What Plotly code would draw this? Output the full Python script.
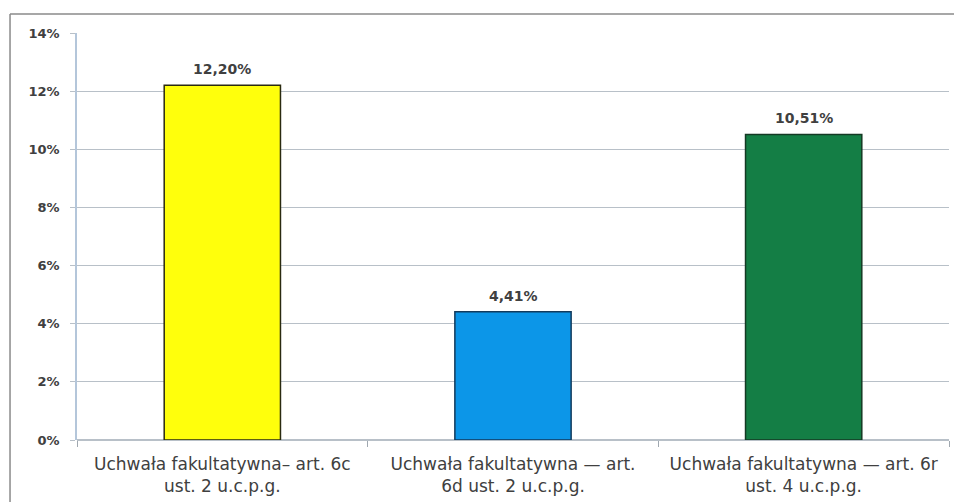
import plotly.graph_objects as go

categories = [
    "Uchwała fakultatywna– art. 6c<br>ust. 2 u.c.p.g.",
    "Uchwała fakultatywna — art.<br>6d ust. 2 u.c.p.g.",
    "Uchwała fakultatywna — art. 6r<br>ust. 4 u.c.p.g.",
]
values = [12.20, 4.41, 10.51]
labels = ["12,20%", "4,41%", "10,51%"]
tick_vals = [0, 2, 4, 6, 8, 10, 12, 14]
tick_text = ["0%", "2%", "4%", "6%", "8%", "10%", "12%", "14%"]
fill_colors = ["#FFFF0C", "#0C96E8", "#147E45"]
line_colors = ["#2A2A10", "#123A5C", "#143A24"]

font_family = "DejaVu Sans, sans-serif"
text_color = "#404040"

fig = go.Figure(
    go.Bar(
        x=categories,
        y=values,
        marker=dict(color=fill_colors, line=dict(color=line_colors, width=1.5)),
        width=0.4,
        hoverinfo="x+y",
    )
)

annotations = [
    dict(
        x=c, y=v, text=t, xref="x", yref="y",
        showarrow=False, yanchor="bottom", yshift=6,
        font=dict(family=font_family, size=14, color=text_color, weight="bold"),
    )
    for c, v, t in zip(categories, values, labels)
]

border = dict(color="#8A8A8A", width=1.5)
fig.update_layout(
    width=962,
    height=502,
    margin=dict(l=69, r=21, t=25, b=70, autoexpand=False),
    paper_bgcolor="white",
    plot_bgcolor="white",
    showlegend=False,
    font=dict(family=font_family, size=13, color=text_color),
    annotations=annotations,
    shapes=[
        dict(type="line", xref="paper", yref="paper",
             x0=-0.0768, x1=1.2, y0=1.0467, y1=1.0467, line=border, layer="below"),
        dict(type="line", xref="paper", yref="paper",
             x0=-0.0768, x1=-0.0768, y0=-0.3, y1=1.0467, line=border, layer="below"),
    ],
)

fig.update_yaxes(
    range=[0, 14],
    tickvals=tick_vals,
    ticktext=tick_text,
    showgrid=True,
    gridcolor="#B8C0C8",
    gridwidth=1,
    zeroline=True,
    zerolinecolor="#B8C0C8",
    showline=True,
    linecolor="#B4C6DA",
    linewidth=1.5,
    ticks="outside",
    ticklen=5,
    tickcolor="#B8C0C8",
    ticklabelstandoff=8,
    tickfont=dict(family=font_family, size=13, color=text_color, weight="bold"),
    automargin=False,
)

fig.update_xaxes(
    showgrid=False,
    showline=False,
    ticks="outside",
    tickson="boundaries",
    ticklen=6,
    tickcolor="#A0A8B0",
    tickfont=dict(family=font_family, size=17, color=text_color),
    tickangle=0,
    ticklabelstandoff=12,
    automargin=False,
)

fig.write_html("out.html")
